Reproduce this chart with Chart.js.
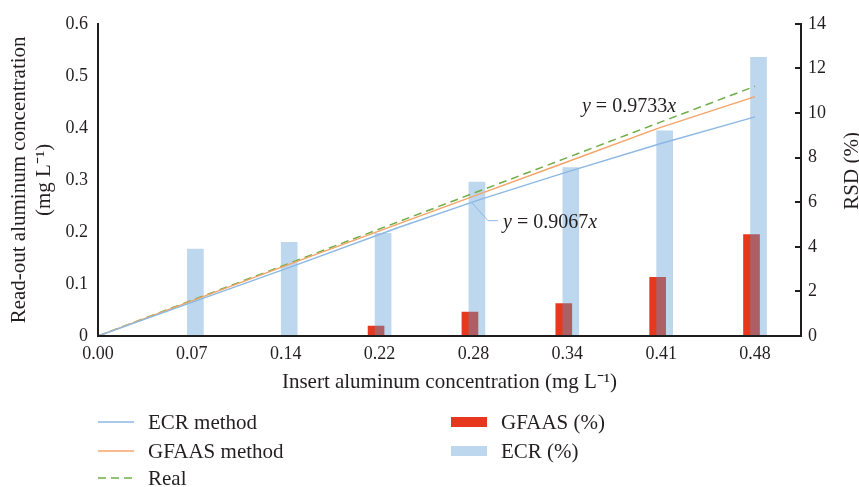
<!DOCTYPE html>
<html>
<head>
<meta charset="utf-8">
<script src="https://cdn.jsdelivr.net/npm/chart.js@4/dist/chart.umd.min.js"></script>
<style>
    body { margin: 0; background: #fff; }
    #wrap { position: relative; width: 859px; height: 487px; font-family: "Liberation Serif", serif; color: #231f20; }
    #legend { position: absolute; left: 0; top: 0; width: 859px; height: 487px; pointer-events: none; }
    .lg { position: absolute; font-size: 21px; line-height: 24px; white-space: nowrap; }
    .lg svg { display: block; }
</style>
</head>
<body>
<div id="wrap">
    <canvas id="chart" width="859" height="487"></canvas>
    <div id="legend"></div>
</div>
<script>
// DONNEES
const categories = ["0.00", "0.07", "0.14", "0.22", "0.28", "0.34", "0.41", "0.48"];
const inserted = [0, 0.07, 0.14, 0.22, 0.28, 0.34, 0.41, 0.48];
const ecrMethod = [0, 0.066, 0.132, 0.209, 0.263, 0.313, 0.369, 0.421];
const gfaasMethod = [0, 0.069, 0.138, 0.216, 0.274, 0.332, 0.400, 0.460];
const realValues = [0, 0.07, 0.14, 0.22, 0.28, 0.34, 0.41, 0.48];
const ecrRsd = [null, 3.9, 4.2, 4.6, 6.9, 7.55, 9.2, 12.5];
const gfaasRsd = [null, null, null, 0.45, 1.07, 1.45, 2.63, 4.55];
const equations = ["0.9733", "0.9067"];

const textColor = "#231f20";
const axisColor = "#1e1e1e";
const blueLine = "#8cb8e3";
const orangeLine = "#f4a468";
const greenLine = "#6fae46";
const redBar = "#e5381d";
const blueBar = "rgba(91,155,213,0.4)";

Chart.defaults.font.family = '"Liberation Serif", serif';
Chart.defaults.color = textColor;

const xIndexMax = 7.49;
const barShift = 0.0373;   // decalage des barres rouges / bleues qui se chevauchent

function points(xs, ys) {
    return xs.map((x, i) => ({ x: x, y: ys[i] }));
}
function barPoints(ys) {
    return ys.map((v, i) => v === null ? null : { x: i, y: v }).filter(p => p);
}

// texte en partie italique : y = ...x
function drawEquation(ctx, x, y, coef) {
    const it = 'italic 20px "Liberation Serif"';
    const rm = '20px "Liberation Serif"';
    ctx.textAlign = "left";
    ctx.textBaseline = "middle";
    ctx.fillStyle = textColor;
    ctx.font = it;
    ctx.fillText("y", x, y);
    x += ctx.measureText("y").width;
    ctx.font = rm;
    const mid = " = " + coef;
    ctx.fillText(mid, x, y);
    x += ctx.measureText(mid).width;
    ctx.font = it;
    ctx.fillText("x", x, y);
}

const extras = {
    id: "extras",
    afterDraw(chart) {
        const { ctx, chartArea, scales } = chart;
        const xv = scales.xv, y = scales.y, y2 = scales.y2;

        // titre axe droit (lu de bas en haut)
        ctx.save();
        ctx.font = '21px "Liberation Serif"';
        ctx.fillStyle = textColor;
        ctx.translate(y2.right - 7, (chartArea.top + chartArea.bottom) / 2 - 9);
        ctx.rotate(-Math.PI / 2);
        ctx.textAlign = "center";
        ctx.textBaseline = "middle";
        ctx.fillText("RSD (%)", 0, 0);
        ctx.restore();

        // equations
        ctx.save();
        drawEquation(ctx, xv.getPixelForValue(0.3536), y.getPixelForValue(0.4414), equations[0]);

        ctx.strokeStyle = blueLine;
        ctx.lineWidth = 1;
        ctx.beginPath();
        ctx.moveTo(xv.getPixelForValue(0.2732), y.getPixelForValue(0.256));
        ctx.lineTo(xv.getPixelForValue(0.2849), y.getPixelForValue(0.2217));
        ctx.lineTo(xv.getPixelForValue(0.2922), y.getPixelForValue(0.2217));
        ctx.stroke();
        drawEquation(ctx, xv.getPixelForValue(0.2959), y.getPixelForValue(0.2178), equations[1]);
        ctx.restore();
    }
};

const hiddenX = (min, max) => ({ type: "linear", display: false, offset: false, min: min, max: max });

const chart = new Chart(document.getElementById("chart"), {
    type: "bar",
    data: {
        datasets: [
            { type: "line", label: "ECR method", data: points(inserted, ecrMethod), xAxisID: "xv", yAxisID: "y",
              borderColor: blueLine, borderWidth: 1.4, pointRadius: 0, order: 0 },
            { type: "line", label: "GFAAS method", data: points(inserted, gfaasMethod), xAxisID: "xv", yAxisID: "y",
              borderColor: orangeLine, borderWidth: 1.4, pointRadius: 0, order: 0 },
            { type: "line", label: "Real", data: points(inserted, realValues), xAxisID: "xv", yAxisID: "y",
              borderColor: greenLine, borderWidth: 1.5, borderDash: [8, 5], pointRadius: 0, order: 0 },
            { label: "GFAAS (%)", data: barPoints(gfaasRsd), xAxisID: "xr", yAxisID: "y2",
              backgroundColor: redBar, grouped: false, barThickness: 16, order: 2 },
            { label: "ECR (%)", data: barPoints(ecrRsd), xAxisID: "xb", yAxisID: "y2",
              backgroundColor: blueBar, grouped: false, barThickness: 16, order: 1 }
        ]
    },
    options: {
        responsive: false,
        animation: false,
        layout: { padding: { top: 22, left: 0, right: 0, bottom: 92 } },
        plugins: { legend: { display: false }, tooltip: { enabled: false } },
        scales: {
            x: {
                type: "linear", position: "bottom", min: 0, max: xIndexMax, offset: false,
                grid: { display: false, drawTicks: false, offset: false },
                border: { color: axisColor, width: 2, z: 1 },
                ticks: {
                    stepSize: 1, includeBounds: false, autoSkip: false, maxRotation: 0, padding: 7,
                    font: { size: 18 }, color: textColor,
                    callback: v => categories[v] !== undefined ? categories[v] : ""
                },
                title: { display: true, text: "Insert aluminum concentration (mg L⁻¹)", font: { size: 21 }, color: textColor, padding: 0 },
                afterFit: s => { s.height = 59; }
            },
            xr: hiddenX(barShift, xIndexMax + barShift),
            xb: hiddenX(-barShift, xIndexMax - barShift),
            xv: hiddenX(0, 0.48 * xIndexMax / 7),
            y: {
                position: "left", min: 0, max: 0.6,
                grid: { display: false, drawTicks: false },
                border: { color: axisColor, width: 2, z: 1 },
                ticks: { stepSize: 0.1, padding: 10, font: { size: 18 }, color: textColor,
                         callback: v => v === 0 ? "0" : v.toFixed(1) },
                title: { display: true, text: ["Read-out aluminum concentration", "(mg L⁻¹)"], font: { size: 21 },
                         color: textColor, padding: { top: 7, bottom: 0 } },
                afterFit: s => { s.width = 98; }
            },
            y2: {
                position: "right", min: 0, max: 14,
                grid: { drawOnChartArea: false, drawTicks: true, tickLength: -6, color: axisColor, lineWidth: 2 },
                border: { color: axisColor, width: 2, z: 1 },
                ticks: { stepSize: 2, padding: 13, font: { size: 18 }, color: textColor },
                afterFit: s => { s.width = 58; }
            }
        }
    },
    plugins: [extras]
});

// LEGENDE (deux colonnes)
const legendSlots = {
    "ECR method": [0, 0], "GFAAS method": [0, 1], "Real": [0, 2],
    "GFAAS (%)": [1, 0], "ECR (%)": [1, 1]
};
const colX = [98, 451];
const rowY = [422, 451, 478];
const legend = document.getElementById("legend");

chart.data.datasets.forEach(ds => {
    const [c, r] = legendSlots[ds.label];
    const cy = rowY[r];
    const sample = document.createElement("div");
    sample.className = "lg";
    sample.style.left = colX[c] + "px";
    sample.style.lineHeight = "0";
    if (ds.type === "line") {
        sample.style.top = (cy - 2) + "px";
        sample.innerHTML = `<svg width="36" height="4"><line x1="0" y1="2" x2="36" y2="2" stroke="${ds.borderColor}"
            stroke-width="1.5" ${ds.borderDash ? 'stroke-dasharray="' + ds.borderDash.join(",") + '"' : ""}/></svg>`;
    } else {
        sample.style.top = (cy - 5) + "px";
        sample.style.width = "36px";
        sample.style.height = "10px";
        sample.style.background = ds.label === "ECR (%)" ? "#bdd7ee" : ds.backgroundColor;
    }
    legend.appendChild(sample);

    const txt = document.createElement("div");
    txt.className = "lg";
    txt.style.left = (colX[c] + 50) + "px";
    txt.style.top = (cy - 12) + "px";
    txt.textContent = ds.label;
    legend.appendChild(txt);
});
</script>
</body>
</html>
